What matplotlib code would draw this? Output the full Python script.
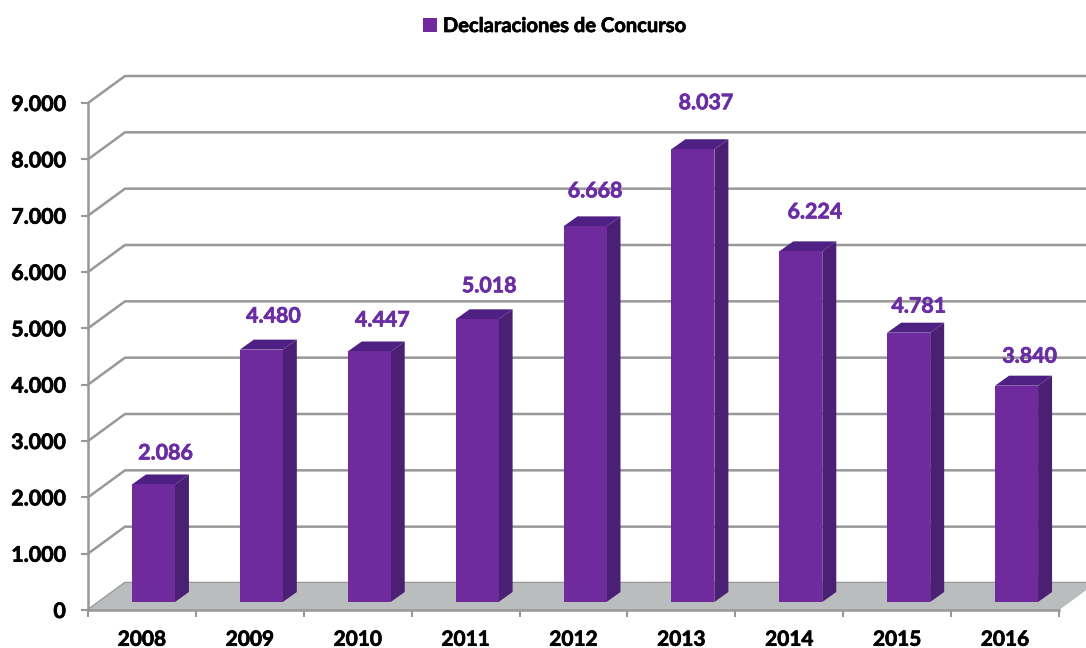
"""Declaraciones de concurso por ano, pseudo 3D column chart."""

import matplotlib
matplotlib.use("Agg")
import matplotlib.patheffects as pe
import matplotlib.pyplot as plt
from matplotlib.patches import Patch, Polygon

years = ["2008", "2009", "2010", "2011", "2012", "2013", "2014", "2015", "2016"]
concursos = [2086, 4480, 4447, 5018, 6668, 8037, 6224, 4781, 3840]
value_labels = ["2.086", "4.480", "4.447", "5.018", "6.668", "8.037", "6.224", "4.781", "3.840"]
y_ticks = [0, 1000, 2000, 3000, 4000, 5000, 6000, 7000, 8000, 9000]
y_tick_labels = ["0", "1.000", "2.000", "3.000", "4.000", "5.000", "6.000", "7.000", "8.000", "9.000"]
series_name = "Declaraciones de Concurso"

# hand placed labels in the original, offset from bar top in pixels
label_dx = [12, 12, 13, 12, 10, 13, 14, 10, 13]
label_dy = [31, 33, 31, 33, 35, 46, 39, 26, 29]

W, H = 1086, 648
LEFT, RIGHT, BOTTOM, TOP = 88, 1059, 610, 103

PURPLE = "#6f2a9e"
PURPLE_SIDE = "#4a1f74"
PURPLE_TOP = "#4f2083"
GRID = "#989898"
FLOOR = "#b9bdbd"
LABEL = "#6a2da3"

plt.rcParams["font.family"] = ["Lato", "DejaVu Sans"]
plt.rcParams["font.weight"] = "bold"

fig = plt.figure(figsize=(W / 100, H / 100), dpi=100)
ax = fig.add_axes([LEFT / W, 1 - BOTTOM / H, (RIGHT - LEFT) / W, (BOTTOM - TOP) / H])
ax.set_xlim(0, len(years))
ax.set_ylim(0, 9000)

# pixel sizes in data units
px = len(years) / (RIGHT - LEFT)
py = 9000 / (BOTTOM - TOP)
depth_x, depth_y = 37 * px, 27 * py

# back wall lines and the diagonal part on the side wall
for v in y_ticks:
    ax.plot([0, depth_x, len(years) + 1], [v, v + depth_y, v + depth_y],
            color=GRID, lw=1.8, clip_on=False, zorder=1, solid_joinstyle="miter")

floor = Polygon([(0, 0), (depth_x, depth_y), (len(years) + depth_x, depth_y), (len(years), 0)],
                closed=True, facecolor=FLOOR, edgecolor="none", clip_on=False, zorder=2)
ax.add_patch(floor)

bar_w = 43 * px
base_x, base_y = 11.5 * px, 8 * py
bar_dx, bar_dy = 14 * px, 10 * py

value_texts = []
for i, v in enumerate(concursos):
    x0 = i + 0.5 + base_x - bar_w / 2
    x1 = x0 + bar_w
    y0 = base_y
    y1 = base_y + v
    side = Polygon([(x1, y0), (x1 + bar_dx, y0 + bar_dy), (x1 + bar_dx, y1 + bar_dy), (x1, y1)],
                   closed=True, facecolor=PURPLE_SIDE, edgecolor="none", clip_on=False, zorder=3)
    top = Polygon([(x0, y1), (x0 + bar_dx, y1 + bar_dy), (x1 + bar_dx, y1 + bar_dy), (x1, y1)],
                  closed=True, facecolor=PURPLE_TOP, edgecolor="none", clip_on=False, zorder=3)
    ax.add_patch(side)
    ax.add_patch(top)
    ax.bar(x0, v, width=bar_w, bottom=y0, align="edge", color=PURPLE, zorder=4, clip_on=False)
    value_texts.append(ax.annotate(value_labels[i], (i + 0.5 + base_x, y1),
                                   xytext=(label_dx[i] * 0.72, label_dy[i] * 0.72),
                                   textcoords="offset points", ha="center", va="center",
                                   color=LABEL, fontsize=15.4, fontweight="bold", zorder=5,
                                   annotation_clip=False))

for name in ["top", "right"]:
    ax.spines[name].set_visible(False)
for name in ["left", "bottom"]:
    ax.spines[name].set_color(GRID)
    ax.spines[name].set_linewidth(1.8)
    ax.spines[name].set_zorder(6)

ax.set_yticks(y_ticks)
ax.set_yticklabels(y_tick_labels)
ax.set_xticks(range(len(years) + 1))
ax.set_xticklabels([])
ax.set_xticks([i + 0.5 for i in range(len(years))], labels=years, minor=True)
ax.tick_params(axis="y", length=5, width=1.5, color=GRID, labelsize=15.4, pad=11)
ax.tick_params(axis="x", which="major", length=5, width=1.5, color=GRID)
ax.tick_params(axis="x", which="minor", length=0, labelsize=15, pad=14.2)

leg = ax.legend(handles=[Patch(facecolor=PURPLE, label=series_name)], loc="center",
                bbox_to_anchor=(554.5 / W, 1 - 26 / H), bbox_transform=fig.transFigure,
                frameon=False, fontsize=14.5, handlelength=0.68, handleheight=0.68,
                handletextpad=0.3, borderpad=0)

# Lato bold is a bit lighter than the original face
all_texts = value_texts + ax.get_yticklabels() + ax.get_xticklabels(minor=True) + leg.get_texts()
for t in all_texts:
    t.set_path_effects([pe.withStroke(linewidth=0.5, foreground=t.get_color())])

fig.savefig("out.png", dpi=100)
